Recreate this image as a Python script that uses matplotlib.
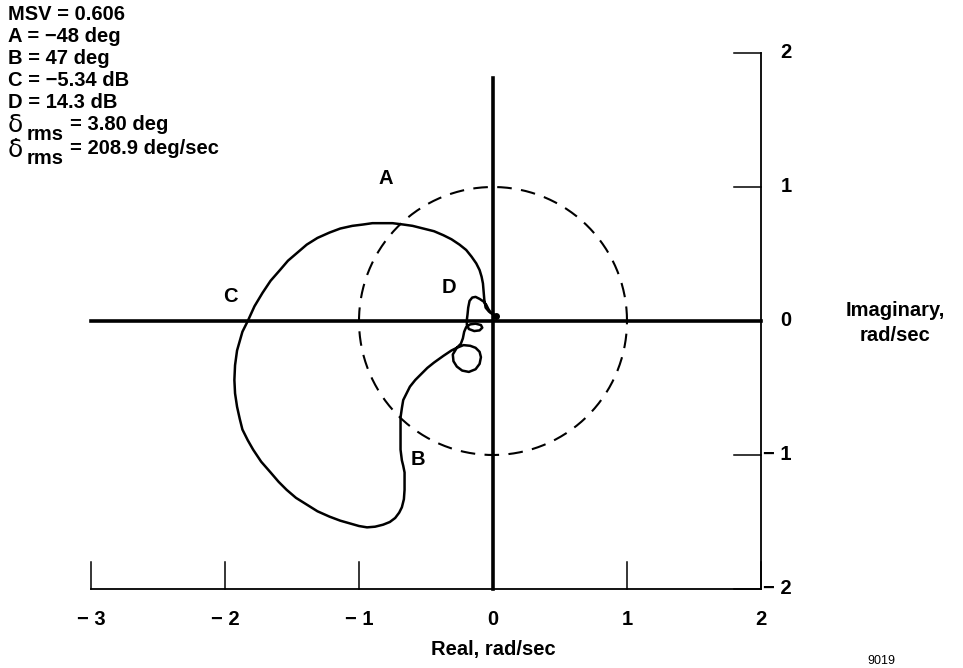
import numpy as np
import matplotlib.pyplot as plt

plt.rcParams["font.family"] = ["Liberation Sans", "DejaVu Sans"]

# frequency response locus (real, imaginary), traced from the origin
real = [0.03, 0.0, -0.03, -0.055, -0.065, -0.07, -0.075, -0.085, -0.10, -0.125,
        -0.16, -0.20, -0.25, -0.31, -0.37, -0.44, -0.52, -0.60, -0.67, -0.75,
        -0.82, -0.90, -0.97, -1.05, -1.14, -1.22, -1.31, -1.39, -1.46, -1.53,
        -1.59, -1.66, -1.72, -1.78, -1.83, -1.87, -1.91, -1.925, -1.93, -1.925,
        -1.91, -1.89, -1.87, -1.83, -1.79, -1.73, -1.66, -1.60, -1.54, -1.47,
        -1.39, -1.31, -1.22, -1.14, -1.07, -1.00, -0.94, -0.88, -0.82, -0.77,
        -0.73, -0.70, -0.68, -0.665, -0.66, -0.66, -0.66, -0.67, -0.68, -0.69,
        -0.69, -0.69, -0.69, -0.68, -0.67, -0.645, -0.62, -0.58, -0.54, -0.49,
        -0.44, -0.37, -0.31, -0.27, -0.22, -0.17, -0.13, -0.10, -0.09, -0.10,
        -0.13, -0.18, -0.23, -0.27, -0.295, -0.30, -0.27, -0.24, -0.225, -0.215,
        -0.20, -0.17, -0.13, -0.09, -0.08, -0.10, -0.14, -0.18, -0.195, -0.195,
        -0.19, -0.185, -0.175, -0.155, -0.13, -0.10, -0.07, -0.05, -0.035, -0.015,
        0.02]
imag = [0.03, 0.05, 0.07, 0.10, 0.16, 0.22, 0.28, 0.33, 0.38, 0.43,
        0.48, 0.53, 0.57, 0.61, 0.64, 0.67, 0.69, 0.71, 0.72, 0.73,
        0.73, 0.73, 0.72, 0.71, 0.69, 0.66, 0.62, 0.57, 0.51, 0.45,
        0.38, 0.30, 0.21, 0.11, 0.0, -0.08, -0.22, -0.33, -0.44, -0.54,
        -0.64, -0.73, -0.81, -0.89, -0.96, -1.05, -1.13, -1.20, -1.26, -1.32,
        -1.37, -1.42, -1.46, -1.49, -1.51, -1.53, -1.54, -1.535, -1.52, -1.50,
        -1.47, -1.43, -1.39, -1.33, -1.26, -1.19, -1.13, -1.08, -1.04, -0.96,
        -0.89, -0.80, -0.72, -0.65, -0.59, -0.54, -0.49, -0.44, -0.40, -0.35,
        -0.31, -0.26, -0.22, -0.20, -0.18, -0.185, -0.20, -0.23, -0.27, -0.32,
        -0.36, -0.38, -0.37, -0.34, -0.30, -0.25, -0.20, -0.17, -0.13, -0.08,
        -0.045, -0.025, -0.02, -0.03, -0.05, -0.07, -0.075, -0.06, -0.03, 0.01,
        0.05, 0.10, 0.15, 0.175, 0.18, 0.165, 0.145, 0.12, 0.09, 0.06,
        0.04]

real_ticks = [-3, -2, -1, 0, 1, 2]
imag_ticks = [2, 1, 0, -1, -2]

readouts = ["MSV = 0.606", "A = \u221248 deg", "B = 47 deg",
            "C = \u22125.34 dB", "D = 14.3 dB"]
point_labels = {"A": (-0.80, 1.06), "C": (-1.96, 0.18),
                "D": (-0.33, 0.25), "B": (-0.56, -1.03)}

W, H = 963, 668
fig = plt.figure(figsize=(W / 100, H / 100), dpi=100)
ax = fig.add_axes([0, 0, 1, 1])
scale = 134.0  # pixels per unit
x0, y0 = 493, 321
ax.set_xlim(-x0 / scale, (W - x0) / scale)
ax.set_ylim(-(H - y0) / scale, y0 / scale)
ax.axis("off")

k = "black"
tick_len = 0.2
fs = 14.5

# frame: bottom and right scales
ax.plot([real_ticks[0], real_ticks[-1]], [-2, -2], color=k, lw=1.3)
ax.plot([2, 2], [-2, 2], color=k, lw=1.3)
for t in real_ticks:
    ax.plot([t, t], [-2, -2 + tick_len], color=k, lw=1.1)
    ax.text(t, -2.16, str(t).replace("-", "\u2212 "), ha="center", va="top",
            fontsize=fs, fontweight="bold")
for t in imag_ticks:
    ax.plot([2 - tick_len, 2], [t, t], color=k, lw=1.1)
    ax.text(2.23, t, str(t).replace("-", "\u2212 "), ha="right", va="center",
            fontsize=fs, fontweight="bold")

# real and imaginary axes through the origin
ax.plot([-3, 2], [0, 0], color=k, lw=2.6)
ax.plot([0, 0], [-2, 1.81], color=k, lw=2.6)

# unit circle
theta = np.linspace(0, 2 * np.pi, 400)
ax.plot(np.cos(theta), np.sin(theta), color=k, lw=1.5, dashes=(7, 4.5))

# locus
ax.plot(real, imag, color=k, lw=1.8, solid_joinstyle="round")
ax.plot(real[-1], imag[-1], "o", color=k, ms=4)

for name, (px, py) in point_labels.items():
    ax.text(px, py, name, ha="center", va="center", fontsize=fs,
            fontweight="bold")

ax.text(0, -2.45, "Real, rad/sec", ha="center", va="center",
        fontsize=fs, fontweight="bold")
ax.text(3.0, 0.08, "Imaginary,", ha="center", va="center",
        fontsize=fs, fontweight="bold")
ax.text(3.0, -0.11, "rad/sec", ha="center", va="center",
        fontsize=fs, fontweight="bold")
ax.text(2.9, -2.54, "9019", ha="center", va="center", fontsize=9)

# readout block, upper left
def fig_text(px, py, s, **kw):
    fig.text(px / W, 1 - py / H, s, va="center", ha="left", **kw)

for i, s in enumerate(readouts):
    fig_text(8, 15 + 22 * i, s, fontsize=fs, fontweight="bold")
fig_text(8, 125, "\u03b4", fontsize=18, family=["DejaVu Sans"])
fig_text(27, 134, "rms", fontsize=fs, fontweight="bold")
fig_text(70, 124, "= 3.80 deg", fontsize=fs, fontweight="bold")
fig_text(8, 150, "\u03b4\u0307", fontsize=18, family=["DejaVu Sans"])
fig_text(27, 159, "rms", fontsize=fs, fontweight="bold")
fig_text(70, 149, "= 208.9 deg/sec", fontsize=fs, fontweight="bold")

fig.savefig("out.png", dpi=100)
